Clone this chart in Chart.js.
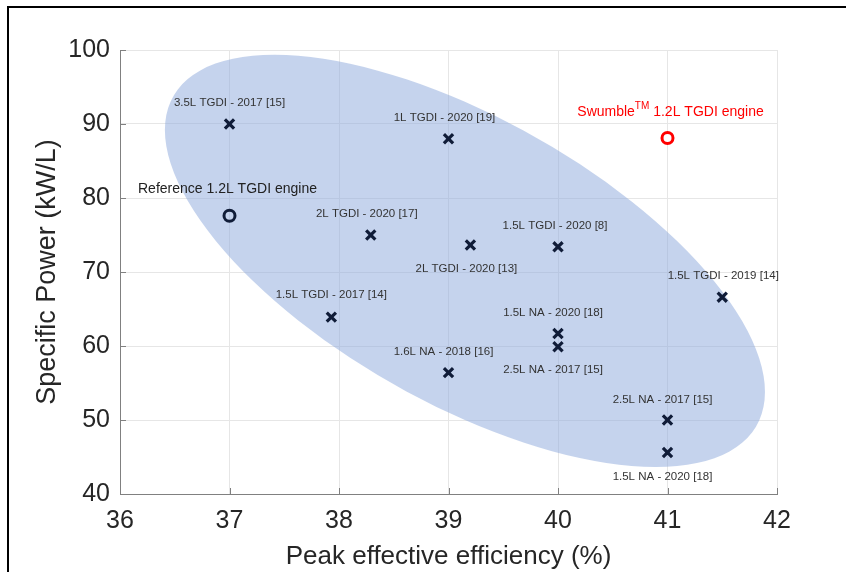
<!DOCTYPE html>
<html>
<head>
<meta charset="utf-8">
<script src="https://cdn.jsdelivr.net/npm/chart.js@4/dist/chart.umd.min.js"></script>
<style>
  body { margin: 0; background: #fff; }
  canvas { display: block; }
</style>
</head>
<body>
<canvas id="chart" width="846" height="572"></canvas>
<script>
// Engines from literature
const engineNames = [
    '3.5L TGDI - 2017 [15]',
    '1L TGDI - 2020 [19]',
    '2L TGDI - 2020 [17]',
    '2L TGDI - 2020 [13]',
    '1.5L TGDI - 2020 [8]',
    '1.5L TGDI - 2019 [14]',
    '1.5L TGDI - 2017 [14]',
    '1.5L NA - 2020 [18]',
    '2.5L NA - 2017 [15]',
    '1.6L NA - 2018 [16]',
    '2.5L NA - 2017 [15]',
    '1.5L NA - 2020 [18]'
];
const engineEff = [37, 39, 38.29, 39.2, 40, 41.5, 37.93, 40, 40, 39, 41, 41];
const enginePower = [90, 88, 75.0, 73.65, 73.4, 66.6, 63.9, 61.7, 59.9, 56.4, 50, 45.6];

// Highlighted engines
const refName = 'Reference 1.2L TGDI engine';
const refEff = [37];
const refPower = [77.6];
const swumbleEff = [41];
const swumblePower = [88.1];

// Shaded region (centre and two conjugate half-axes, data units)
const ellipseCenter = [39.15, 71.5];
const ellipseAxisA = [2.74, -17.7];
const ellipseAxisB = [0, 21.5];

// Axes
const xTicks = [36, 37, 38, 39, 40, 41, 42];
const yTicks = [40, 50, 60, 70, 80, 90, 100];

// label offsets from their marker (px)
const labelOffsets = [
    [0, -21], [-4, -21], [-4, -21], [-4, 24], [-3, -21], [1, -21],
    [0, -22], [-5, -21], [-5, 23], [-5, -21], [-5, -20], [-5, 24]
];

const FONT = '"Liberation Sans", Arial, Helvetica, sans-serif';

const ellipsePlugin = {
    id: 'ellipse',
    beforeDatasetsDraw(chart) {
        const { ctx, scales: { x, y } } = chart;
        const cx = x.getPixelForValue(ellipseCenter[0]);
        const cy = y.getPixelForValue(ellipseCenter[1]);
        const ax = x.getPixelForValue(ellipseCenter[0] + ellipseAxisA[0]) - cx;
        const ay = y.getPixelForValue(ellipseCenter[1] + ellipseAxisA[1]) - cy;
        const bx = x.getPixelForValue(ellipseCenter[0] + ellipseAxisB[0]) - cx;
        const by = y.getPixelForValue(ellipseCenter[1] + ellipseAxisB[1]) - cy;
        ctx.save();
        ctx.beginPath();
        ctx.save();
        ctx.transform(ax, ay, bx, by, cx, cy);
        ctx.arc(0, 0, 1, 0, Math.PI * 2);
        ctx.restore();
        ctx.fillStyle = 'rgba(140, 167, 220, 0.5)';
        ctx.fill();
        ctx.restore();
    }
};

const decorPlugin = {
    id: 'decor',
    afterDatasetsDraw(chart) {
        const { ctx, scales: { x, y }, chartArea } = chart;
        ctx.save();

        // inward ticks
        ctx.strokeStyle = '#808080';
        ctx.lineWidth = 1;
        ctx.beginPath();
        xTicks.forEach(v => {
            const px = Math.round(x.getPixelForValue(v)) + 0.5;
            ctx.moveTo(px, chartArea.bottom);
            ctx.lineTo(px, chartArea.bottom - 6);
        });
        yTicks.forEach(v => {
            const py = Math.round(y.getPixelForValue(v)) + 0.5;
            ctx.moveTo(chartArea.left, py);
            ctx.lineTo(chartArea.left + 6, py);
        });
        ctx.stroke();

        // engine labels
        ctx.textAlign = 'center';
        ctx.textBaseline = 'middle';
        ctx.font = '11.5px ' + FONT;
        ctx.fillStyle = '#333333';
        chart.getDatasetMeta(0).data.forEach((pt, i) => {
            const o = labelOffsets[i];
            ctx.fillText(engineNames[i], pt.x + o[0], pt.y + o[1]);
        });

        // reference label
        const rp = chart.getDatasetMeta(1).data[0];
        ctx.font = '14px ' + FONT;
        ctx.fillStyle = '#222222';
        ctx.fillText(refName, rp.x - 2, rp.y - 27);

        // swumble label with superscript
        const sp = chart.getDatasetMeta(2).data[0];
        const big = '14px ' + FONT, small = '10px ' + FONT;
        ctx.fillStyle = '#ff0000';
        ctx.font = big;
        const w1 = ctx.measureText('Swumble').width;
        const w3 = ctx.measureText(' 1.2L TGDI engine').width;
        ctx.font = small;
        const w2 = ctx.measureText('TM').width;
        let tx = sp.x + 3 - (w1 + w2 + w3) / 2;
        const ty = sp.y - 26;
        ctx.textAlign = 'left';
        ctx.font = big;
        ctx.fillText('Swumble', tx, ty);
        tx += w1;
        ctx.font = small;
        ctx.fillText('TM', tx, ty - 6);
        tx += w2;
        ctx.font = big;
        ctx.fillText(' 1.2L TGDI engine', tx, ty);

        ctx.restore();
    },
    afterDraw(chart) {
        // picture frame
        const ctx = chart.ctx;
        ctx.save();
        ctx.strokeStyle = '#000';
        ctx.lineWidth = 2;
        ctx.beginPath();
        ctx.moveTo(8, 572);
        ctx.lineTo(8, 7);
        ctx.lineTo(846, 7);
        ctx.stroke();
        ctx.restore();
    }
};

const ctx = document.getElementById('chart').getContext('2d');
new Chart(ctx, {
    type: 'scatter',
    data: {
        datasets: [
            {
                label: 'Engines',
                data: engineEff.map((v, i) => ({ x: v, y: enginePower[i] })),
                pointStyle: 'crossRot',
                pointRadius: 6.5,
                pointBorderWidth: 3.2,
                borderColor: '#101c38',
                backgroundColor: '#101c38'
            },
            {
                label: refName,
                data: refEff.map((v, i) => ({ x: v, y: refPower[i] })),
                pointStyle: 'circle',
                pointRadius: 5.5,
                pointBorderWidth: 3,
                borderColor: '#101c38',
                backgroundColor: 'rgba(0,0,0,0)'
            },
            {
                label: 'Swumble 1.2L TGDI engine',
                data: swumbleEff.map((v, i) => ({ x: v, y: swumblePower[i] })),
                pointStyle: 'circle',
                pointRadius: 5.5,
                pointBorderWidth: 3,
                borderColor: '#ff0000',
                backgroundColor: '#ffffff'
            }
        ]
    },
    options: {
        responsive: false,
        animation: false,
        layout: { padding: { left: 0, top: 50, right: 69, bottom: 0 } },
        plugins: {
            legend: { display: false },
            tooltip: { enabled: false }
        },
        scales: {
            x: {
                type: 'linear',
                min: xTicks[0],
                max: xTicks[xTicks.length - 1],
                afterBuildTicks: s => { s.ticks = xTicks.map(v => ({ value: v })); },
                afterFit: s => { s.height = 78; },
                grid: { color: '#e6e6e6', drawTicks: false },
                border: { color: '#808080', width: 1 },
                ticks: { color: '#262626', font: { family: FONT, size: 25 }, padding: 12 },
                title: {
                    display: true,
                    text: 'Peak effective efficiency (%)',
                    color: '#262626',
                    font: { family: FONT, size: 26 },
                    padding: { top: 0, bottom: 0 }
                }
            },
            y: {
                type: 'linear',
                min: yTicks[0],
                max: yTicks[yTicks.length - 1],
                afterBuildTicks: s => { s.ticks = yTicks.map(v => ({ value: v })); },
                afterFit: s => { s.width = 120; },
                grid: { color: '#e6e6e6', drawTicks: false },
                border: { color: '#808080', width: 1 },
                ticks: { color: '#262626', font: { family: FONT, size: 25 }, padding: 10 },
                title: {
                    display: true,
                    text: 'Specific Power (kW/L)',
                    color: '#262626',
                    font: { family: FONT, size: 27 },
                    padding: { top: 31, bottom: 0 }
                }
            }
        }
    },
    plugins: [ellipsePlugin, decorPlugin]
});
</script>
</body>
</html>
